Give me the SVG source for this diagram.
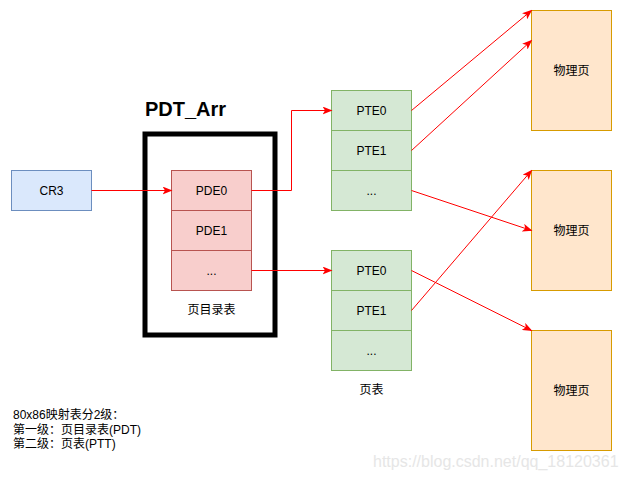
<svg xmlns="http://www.w3.org/2000/svg" width="624" height="479" viewBox="0 0 624 479">
<style>
text{font-family:"Liberation Sans","Noto Sans CJK SC",sans-serif;font-size:12px;fill:#000}
.c{text-anchor:middle;dominant-baseline:central}
.blue{fill:#dae8fc;stroke:#6c8ebf}
.red{fill:#f8cecc;stroke:#b85450}
.green{fill:#d5e8d4;stroke:#82b366}
.orange{fill:#ffe6cc;stroke:#d79b00}
.e{fill:none;stroke:#ff0000;stroke-width:1;marker-end:url(#arr)}
</style>
<defs>
<marker id="arr" viewBox="0 0 10 8" refX="9" refY="4" markerWidth="10" markerHeight="8" markerUnits="userSpaceOnUse" orient="auto">
<path d="M0,0 L10,4 L0,8 L2.5,4 z" fill="#ff0000"/>
</marker>
</defs>
<text x="145" y="116" style="font-size:20px;font-weight:bold">PDT_Arr</text>
<g id="pdt-arr"><rect x="145" y="134" width="130" height="201" fill="none" stroke="#000" stroke-width="5"/></g>
<g id="cr3"><rect class="blue" x="11.5" y="170.5" width="80" height="40"/><text class="c" x="51.5" y="190.5">CR3</text></g>
<g id="pde0"><rect class="red" x="171.5" y="170.5" width="80" height="40"/><text class="c" x="211.5" y="190.5">PDE0</text></g>
<g id="pde1"><rect class="red" x="171.5" y="210.5" width="80" height="40"/><text class="c" x="211.5" y="230.5">PDE1</text></g>
<g id="pde2"><rect class="red" x="171.5" y="250.5" width="80" height="40"/><text class="c" x="211.5" y="270.5">...</text></g>
<text class="c" x="211.5" y="310">页目录表</text>
<g id="pt1-pte0"><rect class="green" x="331.5" y="90.5" width="80" height="40"/><text class="c" x="371.5" y="110.5">PTE0</text></g>
<g id="pt1-pte1"><rect class="green" x="331.5" y="130.5" width="80" height="40"/><text class="c" x="371.5" y="150.5">PTE1</text></g>
<g id="pt1-pte2"><rect class="green" x="331.5" y="170.5" width="80" height="40"/><text class="c" x="371.5" y="190.5">...</text></g>
<g id="pt2-pte0"><rect class="green" x="331.5" y="250.5" width="80" height="40"/><text class="c" x="371.5" y="270.5">PTE0</text></g>
<g id="pt2-pte1"><rect class="green" x="331.5" y="290.5" width="80" height="40"/><text class="c" x="371.5" y="310.5">PTE1</text></g>
<g id="pt2-pte2"><rect class="green" x="331.5" y="330.5" width="80" height="40"/><text class="c" x="371.5" y="350.5">...</text></g>
<text class="c" x="371.5" y="390">页表</text>
<g id="page1"><rect class="orange" x="531.5" y="10.5" width="80" height="120"/><text class="c" x="571.5" y="70.5">物理页</text></g>
<g id="page2"><rect class="orange" x="531.5" y="170.5" width="80" height="120"/><text class="c" x="571.5" y="230.5">物理页</text></g>
<g id="page3"><rect class="orange" x="531.5" y="330.5" width="80" height="120"/><text class="c" x="571.5" y="390.5">物理页</text></g>
<g id="connectors">
<path class="e" d="M91.5,190.5 L171.5,190.5"/>
<path class="e" d="M251.5,190.5 L291.5,190.5 L291.5,110.5 L331.5,110.5"/>
<path class="e" d="M251.5,270.5 L331.5,270.5"/>
<path class="e" d="M411.5,110.5 L531.5,10.5"/>
<path class="e" d="M411.5,150.5 L531.5,40.5"/>
<path class="e" d="M411.5,190.5 L531.5,230.5"/>
<path class="e" d="M411.5,310.5 L531.5,170.5"/>
<path class="e" d="M411.5,270.5 L531.5,330.5"/>
</g>
<text x="13" y="419">80x86映射表分2级：</text>
<text x="13" y="434">第一级：页目录表(PDT)</text>
<text x="13" y="448">第二级：页表(PTT)</text>
<text x="373" y="467" style="font-size:16px;fill:#e6e6e6">https://blog.csdn.net/qq_18120361</text>
</svg>
